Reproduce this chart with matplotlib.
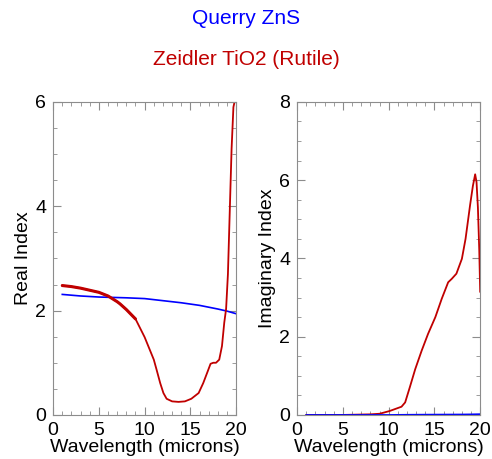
import numpy as np
import matplotlib
matplotlib.use("Agg")
import matplotlib.pyplot as plt
from matplotlib.ticker import MultipleLocator

plt.rcParams['font.family'] = ['Liberation Sans', 'DejaVu Sans']

# TiO2 (Rutile), Zeidler - real index
tio2_wl_n = [1, 2, 3, 4, 5, 6, 7, 7.3, 8, 9, 10, 11, 11.3, 11.7, 12.05, 12.4, 13, 13.7,
             14.4, 15.1, 15.9, 16.4, 16.9, 17.2, 17.5, 17.8, 18.15, 18.45, 18.7,
             18.9, 19.1, 19.3, 19.5, 19.7, 19.85, 20]
tio2_n = [2.48, 2.46, 2.43, 2.39, 2.35, 2.28, 2.17, 2.13, 2.02, 1.84, 1.49, 1.06, 0.87,
          0.61, 0.42, 0.31, 0.26, 0.25, 0.26, 0.31, 0.42, 0.61, 0.84, 0.98, 1.0, 1.0,
          1.06, 1.32, 1.77, 2.03, 2.7, 3.9, 5.1, 5.9, 6.02, 6.05]

# ZnS, Querry - real and imaginary index
zns_wl = [1, 3, 5, 8, 10, 12, 14, 16, 18, 19, 20]
zns_n = [2.31, 2.28, 2.26, 2.245, 2.23, 2.19, 2.15, 2.10, 2.03, 1.99, 1.94]
zns_k = [0.0, 0.0, 0.0, 0.0, 0.0, 0.005, 0.008, 0.01, 0.012, 0.015, 0.02]

# TiO2 - imaginary index
tio2_wl_k = [1, 3, 5, 7, 8, 9, 10.1, 11.4, 11.8, 12.3, 12.9, 13.6, 14.3, 15.1, 15.8,
             16.5, 16.9, 17.4, 18.0, 18.4, 18.9, 19.2, 19.45, 19.6, 19.75, 19.9, 20]
tio2_k = [0.0, 0.0, 0.0, 0.01, 0.015, 0.03, 0.1, 0.21, 0.32, 0.7, 1.17, 1.64, 2.07,
          2.5, 2.97, 3.39, 3.48, 3.61, 3.99, 4.5, 5.37, 5.85, 6.15, 5.95, 5.3, 4.2, 3.15]

red = '#c00000'
blue = '#0000ff'
frame = '0.55'

fig = plt.figure(figsize=(4.92, 4.59), dpi=100)
ax1 = fig.add_axes([0.108, 0.096, 0.372, 0.682])
ax2 = fig.add_axes([0.604, 0.096, 0.372, 0.682])

ax1.plot(zns_wl, zns_n, color=blue, lw=1.2)
ax1.plot(tio2_wl_n, tio2_n, color=red, lw=1.3)
# the short-wavelength part is densely sampled, so it looks heavier
ax1.plot(tio2_wl_n[:10], tio2_n[:10], color=red, lw=2.2, solid_capstyle='round')
ax1.set_ylim(0, 6)
ax1.set_ylabel('Real Index', fontsize=14, labelpad=2)

ax2.plot(tio2_wl_k, tio2_k, color=red, lw=1.3)
ax2.plot(zns_wl, zns_k, color=blue, lw=1.2)
ax2.set_ylim(0, 8)
ax2.set_ylabel('Imaginary Index', fontsize=14, labelpad=2)

for ax in (ax1, ax2):
    ax.set_xlim(0, 20)
    ax.set_xlabel('Wavelength (microns)', fontsize=14, labelpad=0)
    ax.xaxis.set_major_locator(MultipleLocator(5))
    ax.xaxis.set_minor_locator(MultipleLocator(1))
    ax.yaxis.set_major_locator(MultipleLocator(2))
    ax.yaxis.set_minor_locator(MultipleLocator(0.5))
    ax.tick_params(which='both', direction='in', top=True, right=True,
                   color=frame, labelsize=14)
    ax.tick_params(which='major', length=6, pad=5)
    ax.tick_params(which='minor', length=3)
    for s in ax.spines.values():
        s.set_color(frame)

fig.text(0.5, 0.96, 'Querry ZnS', color=blue, fontsize=15, ha='center', va='center')
fig.text(0.5, 0.87, 'Zeidler TiO2 (Rutile)', color=red, fontsize=15, ha='center', va='center')

fig.savefig('out.png', dpi=100)
